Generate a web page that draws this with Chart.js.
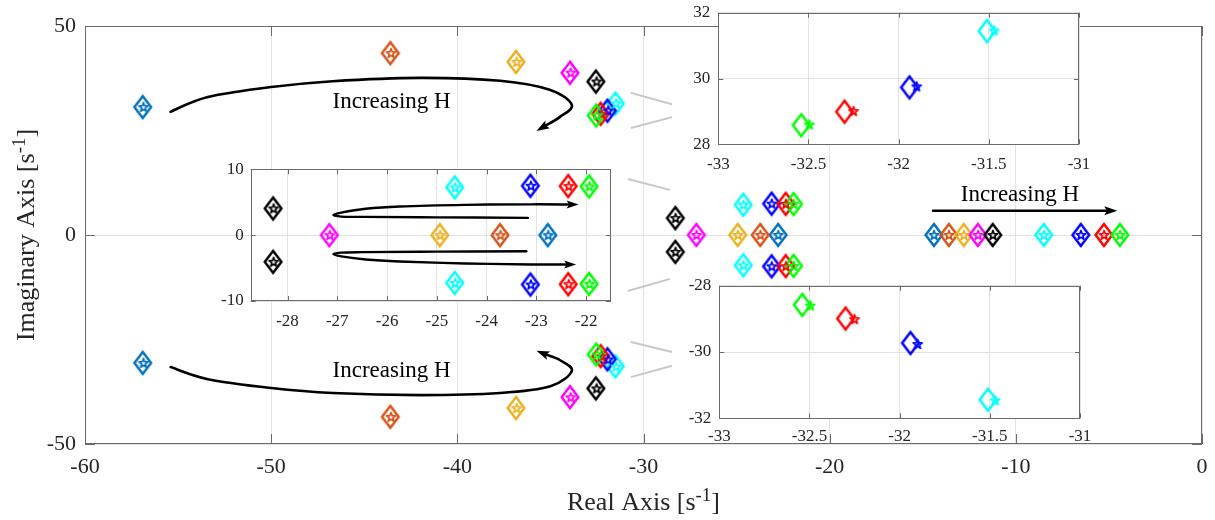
<!DOCTYPE html>
<html>
<head>
<meta charset="utf-8">
<script src="https://cdn.jsdelivr.net/npm/chart.js@4.4.0/dist/chart.umd.min.js"></script>
<style>
  html, body { margin: 0; padding: 0; background: #fff; overflow: hidden; }
  #wrap { position: relative; width: 1215px; height: 520px; }
  #wrap canvas { position: absolute; }
</style>
</head>
<body>
<div id="wrap">
  <canvas id="main" width="1215" height="520" style="left:0;top:0"></canvas>
  <canvas id="inset1" width="420" height="175" style="left:205px;top:160px"></canvas>
  <canvas id="inset2" width="425" height="180" style="left:670px;top:0px"></canvas>
  <canvas id="inset3" width="425" height="175" style="left:670px;top:275px"></canvas>
</div>
<script>
// one colour per value of H (MATLAB order)
const hColors = ['#0072BD', '#D95319', '#EDB120', '#FF00FF', '#000000', '#00FFFF', '#0000FF', '#FF0000', '#00FF00'];

// diamond poles (upper half; lower half is the conjugate)
const farRe  = [-56.9, -43.6, -36.85, -33.95, -32.56, -31.51, -31.94, -32.30, -32.54];
const farIm  = [30.6, 43.5, 41.4, 38.8, 36.7, 31.44, 29.73, 28.99, 28.58];
const midRe  = [-22.77, -23.73, -24.94, -27.16, -28.29, -24.64, -23.12, -22.36, -21.94];
const midIm  = [0, 0, 0, 0, 4.05, 7.25, 7.5, 7.45, 7.4];
const nearRe = [-14.4, -13.6, -12.8, -12.04, -11.24, -8.5, -6.51, -5.27, -4.41];

// star poles
const farReS  = [-56.86, -43.56, -36.81, -33.91, -32.52, -31.47, -31.90, -32.25, -32.495];
const farImS  = [30.62, 43.52, 41.42, 38.82, 36.72, 31.46, 29.76, 29.01, 28.60];
const midReS  = [-22.76, -23.72, -24.93, -27.15, -28.28, -24.63, -23.11, -22.35, -21.93];
const midImS  = [0, 0, 0, 0, 4.05, 7.25, 7.5, 7.45, 7.4];
const nearReS = [-14.39, -13.59, -12.79, -12.03, -11.23, -8.49, -6.5, -5.26, -4.4];

// annotation paths (data units)
const arrowUpper = [[-55.4, 29.5], [-53.4, 33.0], [-50, 35.4], [-46.7, 36.8], [-42, 37.6], [-37.7, 36.9], [-35.0, 34.7], [-33.85, 31.1], [-34.5, 28.2], [-35.75, 24.9]];
const arrowLower = [[-55.4, -31.6], [-53.4, -34.5], [-50, -36.6], [-46.7, -37.8], [-42, -38.3], [-37.7, -37.8], [-35.0, -36.2], [-33.85, -32.5], [-34.5, -29.9], [-35.75, -27.7]];
const arrowRight = [[-14.45, 5.8], [-4.55, 5.8]];
const hairUpper = [[-23.17, 2.63], [-25.0, 2.7], [-26.5, 2.77], [-26.92, 2.82], [-27.08, 3.05], [-26.92, 3.42], [-26.43, 4.0], [-25.75, 4.35], [-24.43, 4.6], [-23.1, 4.68], [-22.15, 4.65]];
const hairLower = [[-23.2, -2.45], [-25.0, -2.5], [-26.5, -2.58], [-26.92, -2.65], [-27.08, -2.88], [-26.92, -3.22], [-26.43, -3.7], [-25.75, -4.0], [-24.43, -4.3], [-23.1, -4.45], [-22.2, -4.45]];
const zoomLinks = [
  [[-30.68, 34.0], [-28.47, 31.3]], [[-30.68, 25.6], [-28.47, 28.2]],
  [[-30.68, -25.6], [-28.47, -28.0]], [[-30.68, -34.0], [-28.47, -31.3]],
  [[-30.84, 13.4], [-28.58, 10.8]], [[-30.84, -13.4], [-28.58, -10.5]]
];

const SERIF = "'Liberation Serif', 'Times New Roman', serif";
const INK = '#262626';

function diamondMarker(color) {
  const c = document.createElement('canvas');
  c.width = 24; c.height = 30;
  const g = c.getContext('2d');
  g.strokeStyle = color; g.lineWidth = 2.5;
  g.beginPath();
  g.moveTo(12, 4); g.lineTo(20.3, 15); g.lineTo(12, 26); g.lineTo(3.7, 15);
  g.closePath(); g.stroke();
  return c;
}

function starMarker(color) {
  const c = document.createElement('canvas');
  c.width = 14; c.height = 14;
  const g = c.getContext('2d');
  g.strokeStyle = color; g.lineWidth = 1.7; g.lineJoin = 'round';
  g.beginPath();
  for (let k = 0; k < 10; k++) {
    const r = k % 2 ? 2.0 : 4.8;
    const a = -Math.PI / 2 + k * Math.PI / 5;
    const px = 7 + r * Math.cos(a), py = 7.3 + r * Math.sin(a);
    if (k === 0) g.moveTo(px, py); else g.lineTo(px, py);
  }
  g.closePath(); g.stroke();
  return c;
}

function polePoints(i, fRe, fIm, mRe, mIm, nRe) {
  const pts = [{ x: fRe[i], y: fIm[i] }, { x: fRe[i], y: -fIm[i] }, { x: mRe[i], y: mIm[i] }];
  if (mIm[i] !== 0) pts.push({ x: mRe[i], y: -mIm[i] });
  pts.push({ x: nRe[i], y: 0 });
  return pts;
}

function buildDatasets() {
  const sets = [];
  // chart.js paints index 0 last, so stars first and highest H first
  for (let i = hColors.length - 1; i >= 0; i--) {
    sets.push({ data: polePoints(i, farReS, farImS, midReS, midImS, nearReS), pointStyle: starMarker(hColors[i]), pointRadius: 5 });
  }
  for (let i = hColors.length - 1; i >= 0; i--) {
    sets.push({ data: polePoints(i, farRe, farIm, midRe, midIm, nearRe), pointStyle: diamondMarker(hColors[i]), pointRadius: 5 });
  }
  return sets;
}

function framePlugin(tickLen) {
  return {
    id: 'frame',
    beforeDraw(chart) {
      const a = chart.chartArea, ctx = chart.ctx;
      ctx.save();
      ctx.fillStyle = '#fff';
      ctx.fillRect(a.left, a.top, a.right - a.left, a.bottom - a.top);
      ctx.restore();
    },
    beforeDatasetsDraw(chart) {
      const a = chart.chartArea, ctx = chart.ctx, xs = chart.scales.x, ys = chart.scales.y;
      ctx.save();
      ctx.strokeStyle = '#6a6a6a'; ctx.lineWidth = 1;
      ctx.strokeRect(Math.round(a.left) + 0.5, Math.round(a.top) + 0.5, Math.round(a.right - a.left) - 1, Math.round(a.bottom - a.top) - 1);
      ctx.beginPath();
      xs.ticks.forEach(t => {
        const px = Math.round(xs.getPixelForValue(t.value)) + 0.5;
        ctx.moveTo(px, a.bottom); ctx.lineTo(px, a.bottom - tickLen);
        ctx.moveTo(px, a.top); ctx.lineTo(px, a.top + tickLen);
      });
      ys.ticks.forEach(t => {
        const py = Math.round(ys.getPixelForValue(t.value)) + 0.5;
        ctx.moveTo(a.left, py); ctx.lineTo(a.left + tickLen, py);
        ctx.moveTo(a.right, py); ctx.lineTo(a.right - tickLen, py);
      });
      ctx.stroke();
      ctx.restore();
    }
  };
}

function annotPlugin(draw) {
  return { id: 'annot', afterDatasetsDraw(chart) { draw(chart, chart.ctx, chart.scales.x, chart.scales.y); } };
}

function toPx(xs, ys, pts) {
  return pts.map(p => [xs.getPixelForValue(p[0]), ys.getPixelForValue(p[1])]);
}

function drawArrow(ctx, pts, width, headLen, headW) {
  const n = pts.length;
  ctx.save();
  ctx.strokeStyle = '#000'; ctx.fillStyle = '#000'; ctx.lineWidth = width; ctx.lineCap = 'round';
  const tip = pts[n - 1], prev = pts[n - 2];
  const ang = Math.atan2(tip[1] - prev[1], tip[0] - prev[0]);
  const base = [tip[0] - headLen * 0.8 * Math.cos(ang), tip[1] - headLen * 0.8 * Math.sin(ang)];
  const path = pts.slice(0, n - 1).concat([base]);
  ctx.beginPath();
  ctx.moveTo(path[0][0], path[0][1]);
  for (let i = 0; i < path.length - 1; i++) {
    const p0 = path[i - 1] || path[i], p1 = path[i], p2 = path[i + 1], p3 = path[i + 2] || p2;
    ctx.bezierCurveTo(p1[0] + (p2[0] - p0[0]) / 6, p1[1] + (p2[1] - p0[1]) / 6,
                      p2[0] - (p3[0] - p1[0]) / 6, p2[1] - (p3[1] - p1[1]) / 6, p2[0], p2[1]);
  }
  ctx.stroke();
  ctx.beginPath();
  ctx.moveTo(tip[0], tip[1]);
  ctx.lineTo(tip[0] - headLen * Math.cos(ang) - headW * Math.sin(ang), tip[1] - headLen * Math.sin(ang) + headW * Math.cos(ang));
  ctx.lineTo(tip[0] - headLen * 0.8 * Math.cos(ang), tip[1] - headLen * 0.8 * Math.sin(ang));
  ctx.lineTo(tip[0] - headLen * Math.cos(ang) + headW * Math.sin(ang), tip[1] - headLen * Math.sin(ang) - headW * Math.cos(ang));
  ctx.closePath(); ctx.fill();
  ctx.restore();
}

function supText(ctx, x, y, main, sup, tail, size) {
  ctx.font = size + 'px ' + SERIF;
  const w1 = ctx.measureText(main).width, w3 = ctx.measureText(tail).width;
  ctx.font = Math.round(size * 0.72) + 'px ' + SERIF;
  const w2 = ctx.measureText(sup).width;
  let sx = x - (w1 + w2 + w3) / 2;
  ctx.textAlign = 'left'; ctx.textBaseline = 'alphabetic';
  ctx.font = size + 'px ' + SERIF;
  ctx.fillText(main, sx, y);
  ctx.font = Math.round(size * 0.72) + 'px ' + SERIF;
  ctx.fillText(sup, sx + w1, y - size * 0.36);
  ctx.font = size + 'px ' + SERIF;
  ctx.fillText(tail, sx + w1 + w2, y);
}

function drawMainNotes(chart, ctx, xs, ys) {
  const a = chart.chartArea;
  ctx.save();
  ctx.strokeStyle = '#c8c8c8'; ctx.lineWidth = 2;
  zoomLinks.forEach(l => {
    const p = toPx(xs, ys, l);
    ctx.beginPath(); ctx.moveTo(p[0][0], p[0][1]); ctx.lineTo(p[1][0], p[1][1]); ctx.stroke();
  });
  ctx.restore();

  drawArrow(ctx, toPx(xs, ys, arrowUpper), 2.6, 13, 4.5);
  drawArrow(ctx, toPx(xs, ys, arrowLower), 2.6, 13, 4.5);
  drawArrow(ctx, toPx(xs, ys, arrowRight), 2.4, 13, 4.5);

  ctx.save();
  ctx.fillStyle = '#000';
  ctx.font = '23px ' + SERIF;
  ctx.textAlign = 'center'; ctx.textBaseline = 'alphabetic';
  ctx.fillText('Increasing H', xs.getPixelForValue(-43.53), ys.getPixelForValue(30.4));
  ctx.fillText('Increasing H', xs.getPixelForValue(-43.53), ys.getPixelForValue(-33.9));
  ctx.fillText('Increasing H', xs.getPixelForValue(-9.78), ys.getPixelForValue(8.2));

  ctx.fillStyle = INK;
  supText(ctx, (a.left + a.right) / 2, 510, 'Real Axis [s', '-1', ']', 26);
  ctx.translate(34, (a.top + a.bottom) / 2);
  ctx.rotate(-Math.PI / 2);
  supText(ctx, 0, 0, 'Imaginary Axis [s', '-1', ']', 26);
  ctx.restore();
}

function drawInsetNotes(chart, ctx, xs, ys) {
  drawArrow(ctx, toPx(xs, ys, hairUpper), 2.4, 12, 4);
  drawArrow(ctx, toPx(xs, ys, hairLower), 2.4, 12, 4);
}

function makeChart(id, cfg) {
  const canvas = document.getElementById(id);
  const tickFont = { family: SERIF, size: cfg.font };
  return new Chart(canvas, {
    type: 'scatter',
    data: { datasets: buildDatasets() },
    options: {
      responsive: false,
      animation: false,
      events: [],
      layout: { padding: { left: 0, top: cfg.area.top, right: canvas.width - cfg.area.right, bottom: 0 } },
      plugins: { legend: { display: false }, tooltip: { enabled: false } },
      scales: {
        x: {
          type: 'linear', min: cfg.xMin, max: cfg.xMax,
          ticks: { stepSize: cfg.xStep, includeBounds: false, autoSkip: false, maxRotation: 0,
                   font: tickFont, color: INK, padding: cfg.xPad, callback: v => String(v) },
          grid: { color: '#e3e3e3', drawTicks: false },
          border: { display: false },
          // fixed box: no extra room for overhanging end labels
          afterFit: s => { s.height = canvas.height - cfg.area.bottom; s.paddingLeft = 0; s.paddingRight = 0; }
        },
        y: {
          type: 'linear', min: cfg.yMin, max: cfg.yMax,
          ticks: { stepSize: cfg.yStep, includeBounds: false, autoSkip: false,
                   font: tickFont, color: INK, padding: cfg.yPad, callback: v => String(v) },
          grid: { color: '#e3e3e3', drawTicks: false },
          border: { display: false },
          afterFit: s => { s.width = cfg.area.left; s.paddingTop = 0; s.paddingBottom = 0; }
        }
      }
    },
    plugins: [framePlugin(cfg.tick), annotPlugin(cfg.notes || (() => {}))]
  });
}

makeChart('main', { xMin: -60, xMax: 0, xStep: 10, yMin: -50, yMax: 50, yStep: 50,
  area: { left: 85, top: 26, right: 1202, bottom: 444 }, font: 22, xPad: 10, yPad: 9, tick: 10, notes: drawMainNotes });
makeChart('inset1', { xMin: -28.74, xMax: -21.5, xStep: 1, yMin: -10, yMax: 10, yStep: 10,
  area: { left: 45.7, top: 9.3, right: 406, bottom: 141 }, font: 17, xPad: 10, yPad: 7, tick: 5, notes: drawInsetNotes });
makeChart('inset2', { xMin: -33, xMax: -31, xStep: 0.5, yMin: 28, yMax: 32, yStep: 2,
  area: { left: 48.3, top: 12.7, right: 409, bottom: 144.3 }, font: 17, xPad: 10, yPad: 8, tick: 5 });
makeChart('inset3', { xMin: -33, xMax: -31, xStep: 0.5, yMin: -32, yMax: -28, yStep: 2,
  area: { left: 49.3, top: 10.7, right: 410, bottom: 143.3 }, font: 17, xPad: 8, yPad: 8, tick: 5 });
</script>
</body>
</html>
